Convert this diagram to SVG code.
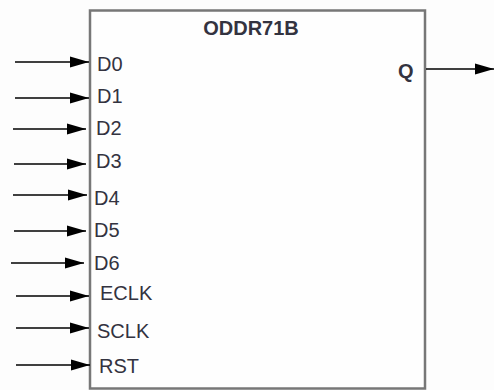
<svg xmlns="http://www.w3.org/2000/svg" width="494" height="390" viewBox="0 0 494 390">
<style>
.lbl{font-family:"Liberation Sans",Arial,sans-serif;font-size:20px;fill:#333340}
.ttl{font-family:"Liberation Sans",Arial,sans-serif;font-size:20px;font-weight:bold;fill:#333340}
.wire{stroke:#000;stroke-width:1.6;fill:none;marker-end:url(#ah)}
</style>
<defs>
<marker id="ah" markerUnits="userSpaceOnUse" markerWidth="20" markerHeight="12" viewBox="0 0 19 12" refX="19" refY="6" orient="auto">
<path d="M0,0.5 L19,6 L0,11.5 Z" fill="#000"/>
</marker>
</defs>
<rect width="494" height="390" fill="#fdfdfd"/>
<g id="block">
<rect x="90" y="10.5" width="335" height="378" fill="#fefefe" stroke="#777" stroke-width="2.5"/>
<text class="ttl" x="251" y="35" text-anchor="middle">ODDR71B</text>
<text class="lbl" x="97" y="71">D0</text>
<text class="lbl" x="97" y="103">D1</text>
<text class="lbl" x="96" y="135">D2</text>
<text class="lbl" x="96" y="168">D3</text>
<text class="lbl" x="94" y="205">D4</text>
<text class="lbl" x="94" y="237">D5</text>
<text class="lbl" x="94" y="270">D6</text>
<text class="lbl" x="100" y="300">ECLK</text>
<text class="lbl" x="97" y="338">SCLK</text>
<text class="lbl" x="99" y="373">RST</text>
<text class="ttl" x="398" y="78">Q</text>
</g>
<g id="connectors">
<line class="wire" x1="15" y1="62" x2="89" y2="62"/>
<line class="wire" x1="15" y1="98" x2="89" y2="98"/>
<line class="wire" x1="13" y1="129" x2="86" y2="129"/>
<line class="wire" x1="14" y1="164" x2="86" y2="164"/>
<line class="wire" x1="13" y1="195" x2="87" y2="195"/>
<line class="wire" x1="14" y1="231" x2="86" y2="231"/>
<line class="wire" x1="11" y1="263" x2="84" y2="263"/>
<line class="wire" x1="16" y1="296" x2="89" y2="296"/>
<line class="wire" x1="16" y1="328" x2="89" y2="328"/>
<line class="wire" x1="16" y1="365" x2="90" y2="365"/>
<line class="wire" x1="426" y1="69" x2="494" y2="69"/>
</g>
</svg>
